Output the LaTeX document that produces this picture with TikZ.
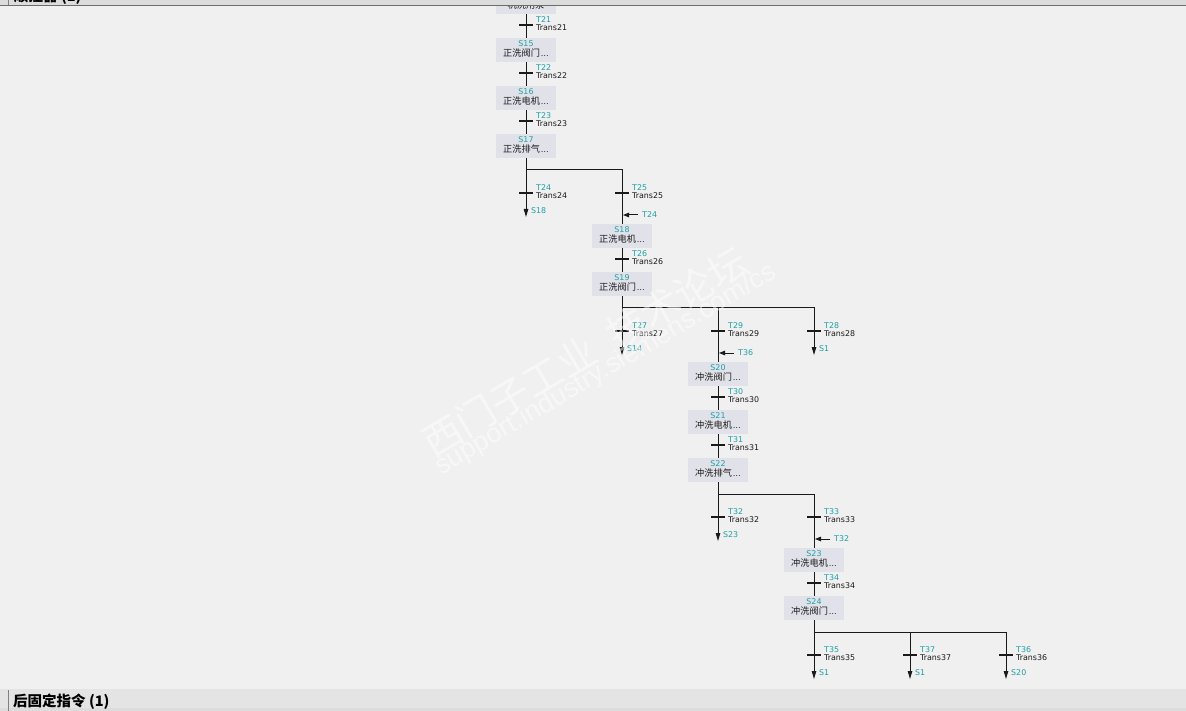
\documentclass[tikz,border=0pt]{standalone}
\usepackage{fontspec}
\setmainfont{DejaVu Sans}
\newfontfamily\cjk{Noto Sans CJK SC}
\newfontfamily\wmfont{Liberation Sans}
\usetikzlibrary{arrows.meta}
\definecolor{bg}{HTML}{F0F0F0}
\definecolor{boxfill}{HTML}{E1E1EA}
\definecolor{tealc}{HTML}{1E9FA5}
\definecolor{ink}{HTML}{1A1A1A}
\definecolor{hdr}{HTML}{DCDCDC}
\definecolor{hdrline}{HTML}{6C6C6C}
\tikzset{
  stepbox/.style={fill=boxfill, minimum width=60pt, minimum height=24pt, inner sep=0pt},
  snum/.style={text=tealc, font=\fontsize{7.9}{8}\selectfont, inner sep=0pt},
  sname/.style={text=ink, font=\cjk\fontsize{9.2}{9}\selectfont, inner sep=0pt},
  tbar/.style={fill=ink, minimum width=14pt, minimum height=2.4pt, inner sep=0pt},
  tnum/.style={text=tealc, font=\fontsize{7.9}{8}\selectfont, anchor=west, inner sep=0pt},
  tname/.style={text=ink, font=\fontsize{7.9}{8}\selectfont, anchor=west, inner sep=0pt},
  flow/.style={draw=ink, line width=1pt},
  jumparr/.style={flow, -{Triangle[length=8pt,width=4.5pt]}},
  inarr/.style={flow, -{Triangle[length=6pt,width=4.5pt]}},
  hdrtext/.style={font=\cjk\bfseries\fontsize{14.5}{15}\selectfont, text=black, inner sep=0pt, anchor=base west},
  wmark/.style={text=white, opacity=0.5, inner sep=0pt, rotate=30.5}
}
\newcommand\mkstep[4]{%
  \node[stepbox] (#1) at (#2) {};
  \node[snum] (#1n) at ([yshift=6pt]#1.center) {#3};
  \node[sname] (#1t) at ([yshift=-3.3pt]#1.center) {#4\hspace{1pt}{\rmfamily\fontsize{7.9}{8}\selectfont …}};
}
\newcommand\mktrans[4]{%
  \node[tbar] (#1) at (#2) {};
  \node[tnum] (#1a) at ([xshift=10pt,yshift=5pt]#1.center) {#3};
  \node[tname] (#1b) at ([xshift=10pt,yshift=-3pt]#1.center) {#4};
}
\begin{document}
\begin{tikzpicture}[x=1pt,y=-1pt]
\useasboundingbox (0,0) rectangle (1186,711);
\fill[bg] (0,0) rectangle (1186,711);

% ---------- column 1 ----------
\node[stepbox] (S14) at (526,2) {};
\node[sname] (S14t) at ([yshift=-3.3pt]S14.center) {机洗用泵};
\mktrans{T21}{526,25}{T21}{Trans21}
\mkstep{S15}{526,50}{S15}{正洗阀门}
\mktrans{T22}{526,73}{T22}{Trans22}
\mkstep{S16}{526,98}{S16}{正洗电机}
\mktrans{T23}{526,121}{T23}{Trans23}
\mkstep{S17}{526,146}{S17}{正洗排气}
\draw[flow] (S14) -- (T21) -- (S15) -- (T22) -- (S16) -- (T23) -- (S17);

% branch 1
\coordinate (br1) at (526,170);
\mktrans{T24}{526,193}{T24}{Trans24}
\mktrans{T25}{622,193}{T25}{Trans25}
\draw[flow] (S17) -- (T24);
\draw[flow] (br1) -| (T25);
\coordinate (j18) at (526,217);
\draw[jumparr] (T24) -- (j18);
\node[tnum] (j18l) at (531,211) {S18};
\coordinate (in24s) at (638,215);
\coordinate (in24e) at (623,215);
\draw[inarr] (in24s) -- (in24e);
\node[tnum] (in24l) at (642,215) {T24};

% ---------- column 2 ----------
\mkstep{S18}{622,236}{S18}{正洗电机}
\mktrans{T26}{622,259}{T26}{Trans26}
\mkstep{S19}{622,284}{S19}{正洗阀门}
\draw[flow] (T25) -- (S18) -- (T26) -- (S19);

% branch 2
\coordinate (br2a) at (622,308);
\coordinate (br2b) at (718,308);
\mktrans{T27}{622,331}{T27}{Trans27}
\mktrans{T29}{718,331}{T29}{Trans29}
\mktrans{T28}{814,331}{T28}{Trans28}
\draw[flow] (S19) -- (T27);
\draw[flow] (br2a) -| (T28);
\draw[flow] (br2b) -- (T29);
\coordinate (j14) at (622,355);
\draw[jumparr] (T27) -- (j14);
\node[tnum] (j14l) at (627,349) {S14};
\coordinate (j1a) at (814,355);
\draw[jumparr] (T28) -- (j1a);
\node[tnum] (j1al) at (819,349) {S1};
\coordinate (in36s) at (734,353);
\coordinate (in36e) at (719,353);
\draw[inarr] (in36s) -- (in36e);
\node[tnum] (in36l) at (738,353) {T36};

% ---------- column 3 ----------
\mkstep{S20}{718,374}{S20}{冲洗阀门}
\mktrans{T30}{718,397}{T30}{Trans30}
\mkstep{S21}{718,422}{S21}{冲洗电机}
\mktrans{T31}{718,445}{T31}{Trans31}
\mkstep{S22}{718,470}{S22}{冲洗排气}
\draw[flow] (T29) -- (S20) -- (T30) -- (S21) -- (T31) -- (S22);

% branch 3
\coordinate (br3) at (718,494);
\mktrans{T32}{718,517}{T32}{Trans32}
\mktrans{T33}{814,517}{T33}{Trans33}
\draw[flow] (S22) -- (T32);
\draw[flow] (br3) -| (T33);
\coordinate (j23) at (718,541);
\draw[jumparr] (T32) -- (j23);
\node[tnum] (j23l) at (723,535) {S23};
\coordinate (in32s) at (830,539);
\coordinate (in32e) at (815,539);
\draw[inarr] (in32s) -- (in32e);
\node[tnum] (in32l) at (834,539) {T32};

% ---------- column 4 ----------
\mkstep{S23}{814,560}{S23}{冲洗电机}
\mktrans{T34}{814,583}{T34}{Trans34}
\mkstep{S24}{814,608}{S24}{冲洗阀门}
\draw[flow] (T33) -- (S23) -- (T34) -- (S24);

% branch 4
\coordinate (br4a) at (814,632);
\coordinate (br4b) at (910,632);
\mktrans{T35}{814,655}{T35}{Trans35}
\mktrans{T37}{910,655}{T37}{Trans37}
\mktrans{T36}{1006,655}{T36}{Trans36}
\draw[flow] (S24) -- (T35);
\draw[flow] (br4a) -| (T36);
\draw[flow] (br4b) -- (T37);
\coordinate (j1b) at (814,679);
\draw[jumparr] (T35) -- (j1b);
\node[tnum] (j1bl) at (819,673) {S1};
\coordinate (j1c) at (910,679);
\draw[jumparr] (T37) -- (j1c);
\node[tnum] (j1cl) at (915,673) {S1};
\coordinate (j20) at (1006,679);
\draw[jumparr] (T36) -- (j20);
\node[tnum] (j20l) at (1011,673) {S20};

% ---------- watermark ----------
\node[wmark, font=\cjk\fontsize{39}{40}\selectfont] (wm1) at (585,352) {西门子工业\hspace{19pt}技术论坛};
\node[wmark, font=\wmfont\fontsize{27}{28}\selectfont] (wm2) at (606,370) {support.industry.siemens.com/cs};

% ---------- header (clipped) ----------
\begin{scope}
\clip (0,0) rectangle (1186,5);
\fill[hdr] (0,0) rectangle (1186,5);
\node[hdrtext] (hdr1) at (14,1.5) {顺控器 (1)};
\end{scope}
\draw[hdrline, line width=1.4pt] (0,5.4) -- (1186,5.4);
\draw[gray, line width=0.8pt] (8.5,0) -- (8.5,4.7);

% ---------- footer ----------
\fill[hdr!60!bg] (0,689) rectangle (1186,711);
\fill[hdr] (0,707.5) rectangle (1186,711);
\draw[gray, line width=0.8pt] (8.5,690) -- (8.5,711);
\node[hdrtext] (ftr1) at (13,706.5) {后固定指令 (1)};
\end{tikzpicture}
\end{document}
